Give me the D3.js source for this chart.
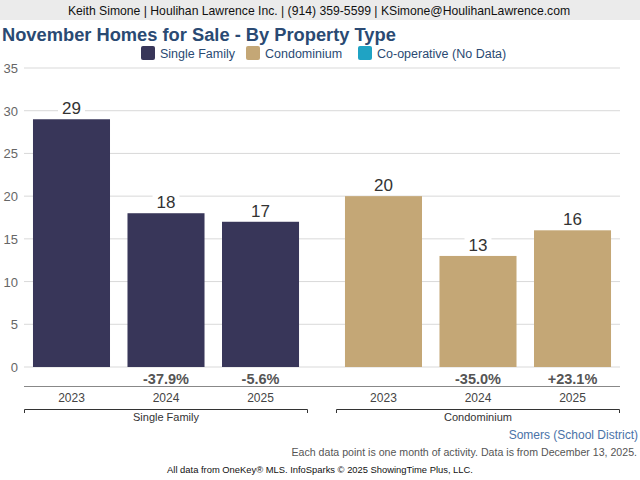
<!DOCTYPE html>
<html>
<head>
<meta charset="utf-8">
<title>November Homes for Sale</title>
<script src="https://cdn.jsdelivr.net/npm/d3@7"></script>
<style>
  body { margin: 0; background: #fff; }
  text { font-family: "Liberation Sans", Arial, sans-serif; }
</style>
</head>
<body>
<script>
// data
var groups = ['Single Family', 'Condominium'];
var years = ['2023', '2024', '2025'];
var singleFamily = [29, 18, 17];
var condominium = [20, 13, 16];
var sfChange = ['', '-37.9%', '-5.6%'];
var condoChange = ['', '-35.0%', '+23.1%'];
var yTicks = [0, 5, 10, 15, 20, 25, 30, 35];
var legendNames = ['Single Family', 'Condominium', 'Co-operative (No Data)'];
var colors = ['#383659', '#c4a776', '#1fa3c4'];

var W = 640, H = 480;
var svg = d3.select('body').append('svg').attr('width', W).attr('height', H);

// header band
svg.append('rect').attr('width', W).attr('height', 20).attr('fill', '#ebebeb');
svg.append('text').attr('x', W / 2 - 1).attr('y', 15).attr('text-anchor', 'middle')
  .attr('font-size', 12.2).attr('fill', '#111')
  .text('Keith Simone | Houlihan Lawrence Inc. | (914) 359-5599 | KSimone@HoulihanLawrence.com');

// title
svg.append('text').attr('x', 2).attr('y', 41).attr('font-size', 18.3).attr('font-weight', 'bold')
  .attr('fill', '#2a4a73').text('November Homes for Sale - By Property Type');

// legend
var legX = [141, 246, 358];
var leg = svg.selectAll('g.leg').data(legendNames).enter().append('g')
  .attr('transform', function(d, i) { return 'translate(' + legX[i] + ',46)'; });
leg.append('rect').attr('width', 14).attr('height', 14).attr('rx', 2)
  .attr('fill', function(d, i) { return colors[i]; });
leg.append('text').attr('x', 19).attr('y', 12).attr('font-size', 12.5).attr('fill', '#2a4a73')
  .text(function(d) { return d; });

// scales
var y = d3.scaleLinear().domain([0, 35]).range([367, 68]);
var xGroup = d3.scaleBand().domain(groups).range([24, 620]).paddingInner(0.0897).paddingOuter(0);
var xYear = d3.scaleBand().domain(years).range([0, xGroup.bandwidth()]).paddingInner(0.185).paddingOuter(0.095);

// gridlines + y labels
svg.selectAll('line.grid').data(yTicks).enter().append('line')
  .attr('x1', 24).attr('x2', 620)
  .attr('y1', function(d) { return y(d); }).attr('y2', function(d) { return y(d); })
  .attr('stroke', '#d9d9d9').attr('stroke-width', 1);
svg.selectAll('text.ylab').data(yTicks).enter().append('text')
  .attr('x', 18).attr('y', function(d) { return y(d) + 5; })
  .attr('text-anchor', 'end').attr('font-size', 13).attr('fill', '#666')
  .text(function(d) { return d; });

var series = [
  { name: groups[0], values: singleFamily, change: sfChange, color: colors[0] },
  { name: groups[1], values: condominium, change: condoChange, color: colors[1] }
];

series.forEach(function(s) {
  var g = svg.append('g').attr('transform', 'translate(' + xGroup(s.name) + ',0)');
  var rows = years.map(function(yr, i) { return { year: yr, v: s.values[i], c: s.change[i] }; });

  g.selectAll('rect.bar').data(rows).enter().append('rect').attr('class', 'bar')
    .attr('x', function(d) { return xYear(d.year); })
    .attr('width', xYear.bandwidth())
    .attr('y', function(d) { return y(d.v); })
    .attr('height', function(d) { return y(0) - y(d.v); })
    .attr('fill', s.color);

  // value labels with white box behind them
  var lab = g.selectAll('g.val').data(rows).enter().append('g').attr('class', 'val');
  var bg = lab.append('rect').attr('fill', '#fff');
  lab.append('text')
    .attr('x', function(d) { return xYear(d.year) + xYear.bandwidth() / 2; })
    .attr('y', function(d) { return y(d.v) - 5; })
    .attr('text-anchor', 'middle').attr('font-size', 17).attr('fill', '#333')
    .text(function(d) { return d.v; });
  lab.each(function() {
    var b = d3.select(this).select('text').node().getBBox();
    d3.select(this).select('rect')
      .attr('x', b.x - 4).attr('y', b.y).attr('width', b.width + 8).attr('height', b.height - 2);
  });

  g.selectAll('text.chg').data(rows).enter().append('text')
    .attr('x', function(d) { return xYear(d.year) + xYear.bandwidth() / 2; })
    .attr('y', 384).attr('text-anchor', 'middle').attr('font-size', 14.5)
    .attr('font-weight', 'bold').attr('fill', '#555')
    .text(function(d) { return d.c; });

  g.selectAll('text.yr').data(rows).enter().append('text')
    .attr('x', function(d) { return xYear(d.year) + xYear.bandwidth() / 2; })
    .attr('y', 402).attr('text-anchor', 'middle').attr('font-size', 12).attr('fill', '#444')
    .text(function(d) { return d.year; });

  // bracket
  var bw = xGroup.bandwidth();
  g.append('path').attr('d', 'M0.5,413V409.5H' + (bw - 0.5) + 'V413')
    .attr('fill', 'none').attr('stroke', '#333').attr('stroke-width', 1);
  g.append('text').attr('x', bw / 2).attr('y', 421).attr('text-anchor', 'middle')
    .attr('font-size', 11).attr('fill', '#333').text(s.name);
});

// axis line below changes
svg.append('line').attr('x1', 24).attr('x2', 620).attr('y1', 386.5).attr('y2', 386.5)
  .attr('stroke', '#888').attr('stroke-width', 1);

// footer
svg.append('text').attr('x', 638).attr('y', 439).attr('text-anchor', 'end')
  .attr('font-size', 12).attr('fill', '#4a72a8').text('Somers (School District)');
svg.append('text').attr('x', 637).attr('y', 456).attr('text-anchor', 'end')
  .attr('font-size', 10.6).attr('fill', '#555')
  .text('Each data point is one month of activity. Data is from December 13, 2025.');
svg.append('text').attr('x', 320).attr('y', 473).attr('text-anchor', 'middle')
  .attr('font-size', 9.4).attr('fill', '#111')
  .text('All data from OneKey\u00ae MLS. InfoSparks \u00a9 2025 ShowingTime Plus, LLC.');
</script>
</body>
</html>
